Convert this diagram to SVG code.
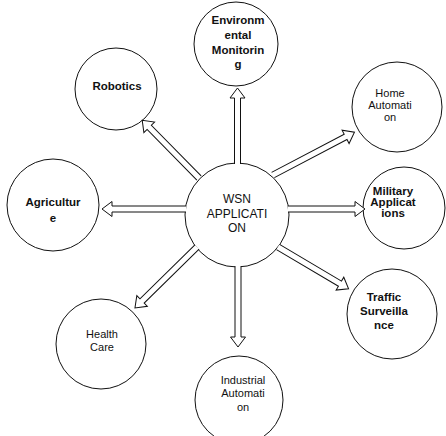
<svg xmlns="http://www.w3.org/2000/svg" width="446" height="436" viewBox="0 0 446 436">
  <style>
    .node circle { fill: #ffffff; stroke: #111111; stroke-width: 1; }
    .node text { font-family: "Liberation Sans", Arial, sans-serif; font-size: 11px; fill: #111111; text-anchor: middle; }
    .node text.b { font-weight: bold; font-size: 11.5px; }
    .arrow { fill: #ffffff; stroke: #111111; stroke-width: 1; stroke-linejoin: miter; }
  </style>
  <rect width="446" height="436" fill="#ffffff"/>

  <g id="n-center" class="node">
    <circle cx="237" cy="215" r="52"/>
    <text x="237" y="203" style="font-size:12px">WSN</text>
    <text x="237" y="218" style="font-size:12px">APPLICATI</text>
    <text x="237" y="232" style="font-size:12px">ON</text>
  </g>
  <g id="n-env" class="node">
    <circle cx="236" cy="44" r="42"/>
    <text class="b" x="238" y="24">Environm</text>
    <text class="b" x="238" y="39">ental</text>
    <text class="b" x="238" y="54">Monitorin</text>
    <text class="b" x="238" y="68">g</text>
  </g>
  <g id="n-robotics" class="node">
    <circle cx="116" cy="89" r="41"/>
    <text class="b" x="117" y="90">Robotics</text>
  </g>
  <g id="n-home" class="node">
    <circle cx="397" cy="107" r="45"/>
    <text x="390" y="97">Home</text>
    <text x="390" y="109">Automati</text>
    <text x="390" y="121">on</text>
  </g>
  <g id="n-agri" class="node">
    <circle cx="53" cy="205" r="46"/>
    <text class="b" x="53" y="206">Agricultur</text>
    <text class="b" x="53" y="222">e</text>
  </g>
  <g id="n-military" class="node">
    <circle cx="404" cy="208" r="41"/>
    <text class="b" x="393" y="195">Military</text>
    <text class="b" x="393" y="206">Applicat</text>
    <text class="b" x="393" y="217">ions</text>
  </g>
  <g id="n-traffic" class="node">
    <circle cx="392" cy="314" r="45"/>
    <text class="b" x="384" y="301">Traffic</text>
    <text class="b" x="384" y="315">Surveilla</text>
    <text class="b" x="384" y="329">nce</text>
  </g>
  <g id="n-health" class="node">
    <circle cx="101" cy="344" r="45"/>
    <text x="102" y="338">Health</text>
    <text x="102" y="351">Care</text>
  </g>
  <g id="n-industrial" class="node">
    <circle cx="239" cy="400" r="44"/>
    <text x="243" y="384">Industrial</text>
    <text x="243" y="397">Automati</text>
    <text x="243" y="411">on</text>
  </g>

  <!-- hollow block arrows: tail at the local origin, pointing along +x -->
  <g id="connectors" class="arrow">
    <!-- to Environmental Monitoring -->
    <path transform="translate(237.5,164) rotate(-90)" d="M0,-3 H66 V-7.5 L76,0 L66,7.5 V3 H0"/>
    <!-- to Industrial Automation -->
    <path transform="translate(238,266) rotate(90)" d="M0,-3 H71 V-7.5 L81,0 L71,7.5 V3 H0"/>
    <!-- to Agriculture -->
    <path transform="translate(186,209) rotate(180)" d="M0,-3 H74 V-7.5 L84,0 L74,7.5 V3 H0"/>
    <!-- to Military Applications -->
    <path transform="translate(288,209)" d="M0,-3 H67 V-7.5 L77,0 L67,7.5 V3 H0"/>
    <!-- to Robotics -->
    <path transform="translate(199,178) rotate(-134.5)" d="M0,-3 H71 V-7.5 L81,0 L71,7.5 V3 H0"/>
    <!-- to Home Automation -->
    <path transform="translate(273,175) rotate(-27.7)" d="M0,-3 H82 V-7.5 L92,0 L82,7.5 V3 H0"/>
    <!-- to Health Care -->
    <path transform="translate(197,247) rotate(135.5)" d="M0,-3 H77 V-7.5 L87,0 L77,7.5 V3 H0"/>
    <!-- to Traffic Surveillance -->
    <path transform="translate(278,247) rotate(30.6)" d="M0,-3 H72 V-7.5 L82,0 L72,7.5 V3 H0"/>
  </g>
</svg>
